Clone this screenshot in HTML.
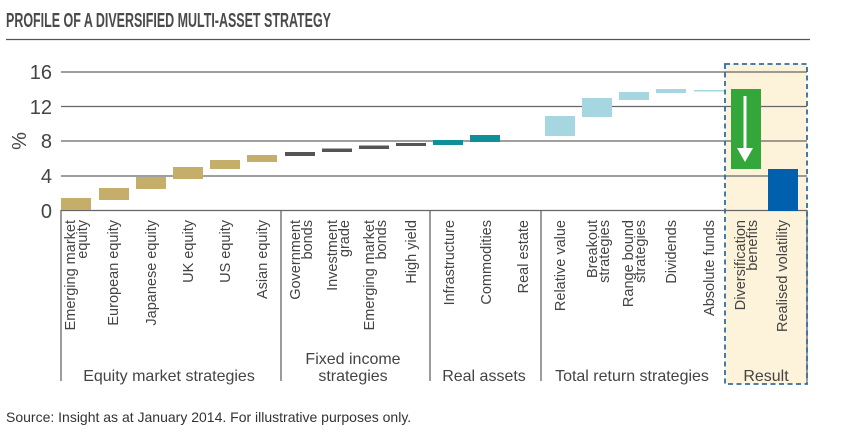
<!DOCTYPE html>
<html><head><meta charset="utf-8"><style>
html,body{margin:0;padding:0;background:#fff;}
svg{display:block;font-family:"Liberation Sans",sans-serif;}
</style></head><body>
<svg width="841" height="442" viewBox="0 0 841 442" xmlns="http://www.w3.org/2000/svg">
<text x="6" y="27" font-family="Liberation Sans Narrow, Liberation Sans, sans-serif" font-weight="bold" font-size="20" fill="#4a4a4a" textLength="325" lengthAdjust="spacingAndGlyphs">PROFILE OF A DIVERSIFIED MULTI-ASSET STRATEGY</text>
<line x1="6" y1="39.5" x2="810" y2="39.5" stroke="#555" stroke-width="1.2"/>
<rect x="725" y="64" width="82" height="320" fill="#fdf3da"/>
<g stroke="#666" stroke-width="1.3">
<line x1="61" y1="72" x2="807" y2="72"/>
<line x1="61" y1="106.5" x2="807" y2="106.5"/>
<line x1="61" y1="141" x2="807" y2="141"/>
<line x1="61" y1="176" x2="807" y2="176"/>
<line x1="61" y1="210.5" x2="807" y2="210.5"/>
</g>
<g fill="#444" font-size="20" text-anchor="end">
<text x="52" y="79">16</text><text x="52" y="114">12</text><text x="52" y="148">8</text><text x="52" y="183">4</text><text x="52" y="218">0</text>
</g>
<text transform="translate(26,141) rotate(-90)" font-size="20" fill="#444" text-anchor="middle">%</text>
<g fill="#c5ad6a">
<rect x="61" y="198" width="30" height="12"/>
<rect x="99" y="188" width="30" height="12"/>
<rect x="136" y="177" width="30" height="12"/>
<rect x="173" y="167" width="30" height="12"/>
<rect x="210" y="160" width="30" height="9"/>
<rect x="247" y="155" width="30" height="7"/>
</g>
<g fill="#555">
<rect x="285" y="152" width="30" height="4"/>
<rect x="322" y="148.5" width="30" height="3.5"/>
<rect x="359" y="145.5" width="30" height="3.5"/>
<rect x="396" y="143" width="30" height="3"/>
</g>
<g fill="#0f8f99">
<rect x="433" y="140" width="30" height="5"/>
<rect x="470" y="135" width="30" height="7"/>
</g>
<g fill="#a6d6e0">
<rect x="545" y="116" width="30" height="20"/>
<rect x="582" y="98" width="30" height="19"/>
<rect x="619" y="92" width="30" height="8"/>
<rect x="656" y="89" width="30" height="4"/>
<rect x="694" y="90" width="30" height="1.5"/>
</g>
<rect x="731" y="89" width="30" height="80" fill="#33a73a"/>
<line x1="745" y1="96" x2="745" y2="150" stroke="#fff" stroke-width="3"/>
<polygon points="737,148 753,148 745,162" fill="#fff"/>
<rect x="768" y="169" width="30" height="42" fill="#0060ad"/>
<g stroke="#666" stroke-width="1.3">
<line x1="61" y1="210" x2="61" y2="381"/>
<line x1="281" y1="210" x2="281" y2="381"/>
<line x1="430" y1="210" x2="430" y2="381"/>
<line x1="541" y1="210" x2="541" y2="381"/>
<line x1="807" y1="210" x2="807" y2="381"/>
</g>
<rect x="725" y="64" width="82" height="320" fill="none" stroke="#2e6da4" stroke-width="1.8" stroke-dasharray="5,3.5"/>
<g font-size="14.5" fill="#444" text-anchor="end">
<text transform="translate(75,220) rotate(-90)">Emerging market</text>
<text transform="translate(87,220) rotate(-90)">equity</text>
<text transform="translate(118,220) rotate(-90)">European equity</text>
<text transform="translate(156,220) rotate(-90)">Japanese equity</text>
<text transform="translate(193,220) rotate(-90)">UK equity</text>
<text transform="translate(230,220) rotate(-90)">US equity</text>
<text transform="translate(267,220) rotate(-90)">Asian equity</text>
<text transform="translate(300,220) rotate(-90)">Government</text>
<text transform="translate(312,220) rotate(-90)">bonds</text>
<text transform="translate(337,220) rotate(-90)">Investment</text>
<text transform="translate(349,220) rotate(-90)">grade</text>
<text transform="translate(374,220) rotate(-90)">Emerging market</text>
<text transform="translate(386,220) rotate(-90)">bonds</text>
<text transform="translate(416,220) rotate(-90)">High yield</text>
<text transform="translate(454,220) rotate(-90)">Infrastructure</text>
<text transform="translate(491,220) rotate(-90)">Commodities</text>
<text transform="translate(528,220) rotate(-90)">Real estate</text>
<text transform="translate(565,220) rotate(-90)">Relative value</text>
<text transform="translate(597,220) rotate(-90)">Breakout</text>
<text transform="translate(609,220) rotate(-90)">strategies</text>
<text transform="translate(633,220) rotate(-90)">Range bound</text>
<text transform="translate(645,220) rotate(-90)">strategies</text>
<text transform="translate(676,220) rotate(-90)">Dividends</text>
<text transform="translate(714,220) rotate(-90)">Absolute funds</text>
<text transform="translate(745,220) rotate(-90)">Diversification</text>
<text transform="translate(757,220) rotate(-90)">benefits</text>
<text transform="translate(787,220) rotate(-90)">Realised volatility</text>
</g>
<g font-size="16" fill="#444" text-anchor="middle">
<text x="169" y="381">Equity market strategies</text>
<text x="353" y="364">Fixed income</text>
<text x="353" y="381">strategies</text>
<text x="484" y="381">Real assets</text>
<text x="632" y="381">Total return strategies</text>
<text x="766" y="381">Result</text>
</g>
<text x="6" y="422" font-size="14" fill="#333">Source: Insight as at January 2014. For illustrative purposes only.</text>
</svg>
</body></html>
